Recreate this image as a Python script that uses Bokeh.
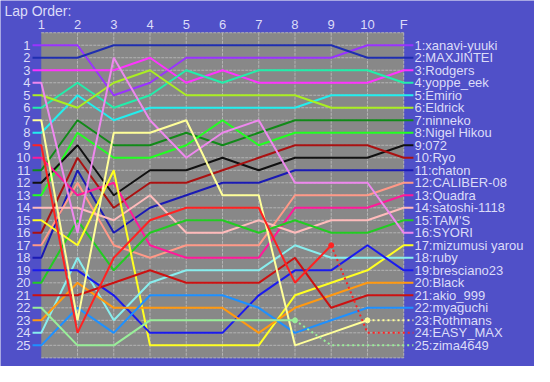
from bokeh.plotting import figure
from bokeh.models import Range1d
from bokeh.core.properties import value
from bokeh.embed import file_html
from bokeh.resources import INLINE

# ---------------- data ----------------
lap_labels = ["1", "2", "3", "4", "5", "6", "7", "8", "9", "10", "F"]
drivers = ["xanavi-yuuki", "MAXJINTEI", "Rodgers", "yoppe_eek", "Emirio", "Eldrick",
           "ninneko", "Nigel Hikou", "072", "Ryo", "chaton", "CALIBER-08", "Quadra",
           "satoshi-1118", "TAM'S", "SYORI", "mizumusi yarou", "ruby", "bresciano23",
           "Black", "akio_999", "myaguchi", "Rothmans", "EASY_MAX", "zima4649"]
colors = ["#9933ff", "#1f2eb0", "#ff33ff", "#22eeaa", "#22eeee", "#aaee22",
          "#118a18", "#22ff22", "#111111", "#aa1111", "#1a1ab4", "#ff9988", "#ff1a99",
          "#ffbbbb", "#22cc22", "#ee88ee", "#ffff22", "#88eeee", "#1a1aee",
          "#ff9911", "#cc1111", "#1e90ff", "#ffff99", "#ff2222", "#99ee99"]
pos_xanavi = [1, 1, 5, 4, 2, 2, 2, 2, 2, 1, 1]
pos_maxjintei = [2, 2, 1, 1, 1, 1, 1, 1, 1, 2, 2]
pos_rodgers = [3, 3, 3, 2, 4, 3, 4, 4, 4, 4, 3]
pos_yoppe = [6, 4, 6, 5, 3, 4, 3, 3, 3, 3, 4]
pos_emirio = [8, 5, 7, 6, 6, 6, 6, 6, 5, 5, 5]
pos_eldrick = [5, 6, 4, 3, 5, 5, 5, 5, 6, 6, 6]
pos_ninneko = [11, 7, 9, 9, 8, 9, 8, 7, 7, 7, 7]
pos_nigel = [13, 8, 10, 10, 9, 7, 9, 8, 8, 8, 8]
pos_072 = [12, 9, 13, 11, 11, 10, 11, 10, 10, 10, 9]
pos_ryo = [16, 10, 14, 12, 12, 11, 10, 9, 9, 9, 10]
pos_chaton = [18, 11, 16, 14, 13, 12, 12, 11, 11, 11, 11]
pos_caliber = [17, 12, 17, 18, 17, 17, 17, 13, 13, 13, 12]
pos_quadra = [10, 13, 12, 17, 18, 18, 18, 14, 14, 14, 13]
pos_satoshi = [14, 14, 15, 13, 16, 16, 15, 16, 15, 15, 14]
pos_tams = [20, 15, 19, 16, 15, 15, 16, 15, 16, 16, 15]
pos_syori = [4, 16, 2, 7, 10, 8, 7, 12, 12, 12, 16]
pos_mizumusi = [15, 17, 11, 25, 25, 25, 25, 21, 20, 19, 17]
pos_ruby = [24, 18, 23, 20, 19, 19, 19, 17, 18, 18, 18]
pos_bresciano = [19, 19, 21, 24, 24, 24, 21, 19, 19, 17, 19]
pos_black = [23, 20, 22, 22, 22, 22, 24, 22, 21, 20, 20]
pos_akio = [21, 21, 20, 19, 20, 20, 20, 18, 22, 21, 21]
pos_myaguchi = [25, 22, 24, 21, 21, 21, 22, 24, 23, 22, 22]
pos_rothmans = [7, 23, 8, 8, 7, 13, 13, 25, 24, 23, 23]
pos_easymax = [9, 24, 18, 15, 14, 14, 14, 20, 17, 24, 24]
pos_zima = [22, 25, 25, 23, 23, 23, 23, 23, 25, 25, 25]
positions = [pos_xanavi, pos_maxjintei, pos_rodgers, pos_yoppe, pos_emirio, pos_eldrick,
             pos_ninneko, pos_nigel, pos_072, pos_ryo, pos_chaton, pos_caliber, pos_quadra,
             pos_satoshi, pos_tams, pos_syori, pos_mizumusi, pos_ruby, pos_bresciano,
             pos_black, pos_akio, pos_myaguchi, pos_rothmans, pos_easymax, pos_zima]
# last lap (index) driven before retiring
retired_after = {"Rothmans": 9, "EASY_MAX": 8, "zima4649": 7}

# ---------------- layout ----------------
BG = "#5050c8"
PLOT_BG = "#888888"
GRID = "#b4b4b4"
TXT = "#dcdcf8"
FONT = value("Liberation Sans")
W, H = 534, 366
SX = W / 550
SY = H / 382
DX = 37.33 * SX
DY = 13.05 * SY
X0 = 42 * SX
Y0 = 46.7 * SY
n_laps = len(lap_labels)
n_rows = len(drivers)
x_start = 1 - X0 / DX
y_top = 1 - Y0 / DY

p = figure(width=W, height=H, x_range=Range1d(x_start, x_start + W / DX),
           y_range=Range1d(y_top + H / DY, y_top), output_backend="svg",
           toolbar_location=None, min_border=0, x_axis_location=None,
           y_axis_location=None)
p.xgrid.visible = False
p.ygrid.visible = False
p.outline_line_color = None
p.background_fill_color = BG
p.border_fill_color = BG

laps = list(range(1, n_laps + 1))
rows = list(range(1, n_rows + 1))

p.quad(left=[1], right=[n_laps], top=[0], bottom=[n_rows + 1],
       fill_color=PLOT_BG, line_color=None)
# grid
p.segment(x0=laps[1:], x1=laps[1:], y0=[0] * (n_laps - 1), y1=[n_rows + 1] * (n_laps - 1),
          line_color=GRID, line_width=1, line_dash="3 1")
hrows = [0] + rows + [n_rows + 1]
p.segment(x0=[1] * len(hrows), x1=[n_laps] * len(hrows), y0=hrows, y1=hrows,
          line_color=GRID, line_width=1, line_dash="3 1")

stub_l = 1 - 9 * SX / DX
stub_r = n_laps + 10 * SX / DX
for name, col, pos in zip(drivers, colors, positions):
    xs = [stub_l] + laps + [stub_r]
    ys = [pos[0]] + pos + [pos[-1]]
    if name in retired_after:
        k = retired_after[name] + 1
        p.line(xs[:k + 1], ys[:k + 1], line_color=col, line_width=2)
        p.line(xs[k:], ys[k:], line_color=col, line_width=2, line_dash="2 3")
        p.scatter([xs[k]], [ys[k]], size=5, fill_color=col, line_color=col)
    else:
        p.line(xs, ys, line_color=col, line_width=2)

# texts
p.text(x=[1 + (4 - 42) * SX / DX], y=[1 + (11 - 46.7) * SY / DY], text=["Lap Order:"],
       text_color=TXT, text_font=FONT, text_font_size="14px",
       text_align="left", text_baseline="middle")
p.text(x=laps, y=[1 + (25 - 46.7) * SY / DY] * n_laps, text=lap_labels,
       text_color=TXT, text_font=FONT, text_font_size="13px",
       text_align="center", text_baseline="middle")
p.text(x=[1 - 11 * SX / DX] * n_rows, y=rows, text=[str(r) for r in rows],
       text_color=TXT, text_font=FONT, text_font_size="13px",
       text_align="right", text_baseline="middle")
p.text(x=[n_laps + 11 * SX / DX] * n_rows, y=rows,
       text=[f"{r}:{d}" for r, d in zip(rows, drivers)],
       text_color=TXT, text_font=FONT, text_font_size="13px",
       text_align="left", text_baseline="middle")

open("out.html", "w").write(file_html(p, INLINE))
